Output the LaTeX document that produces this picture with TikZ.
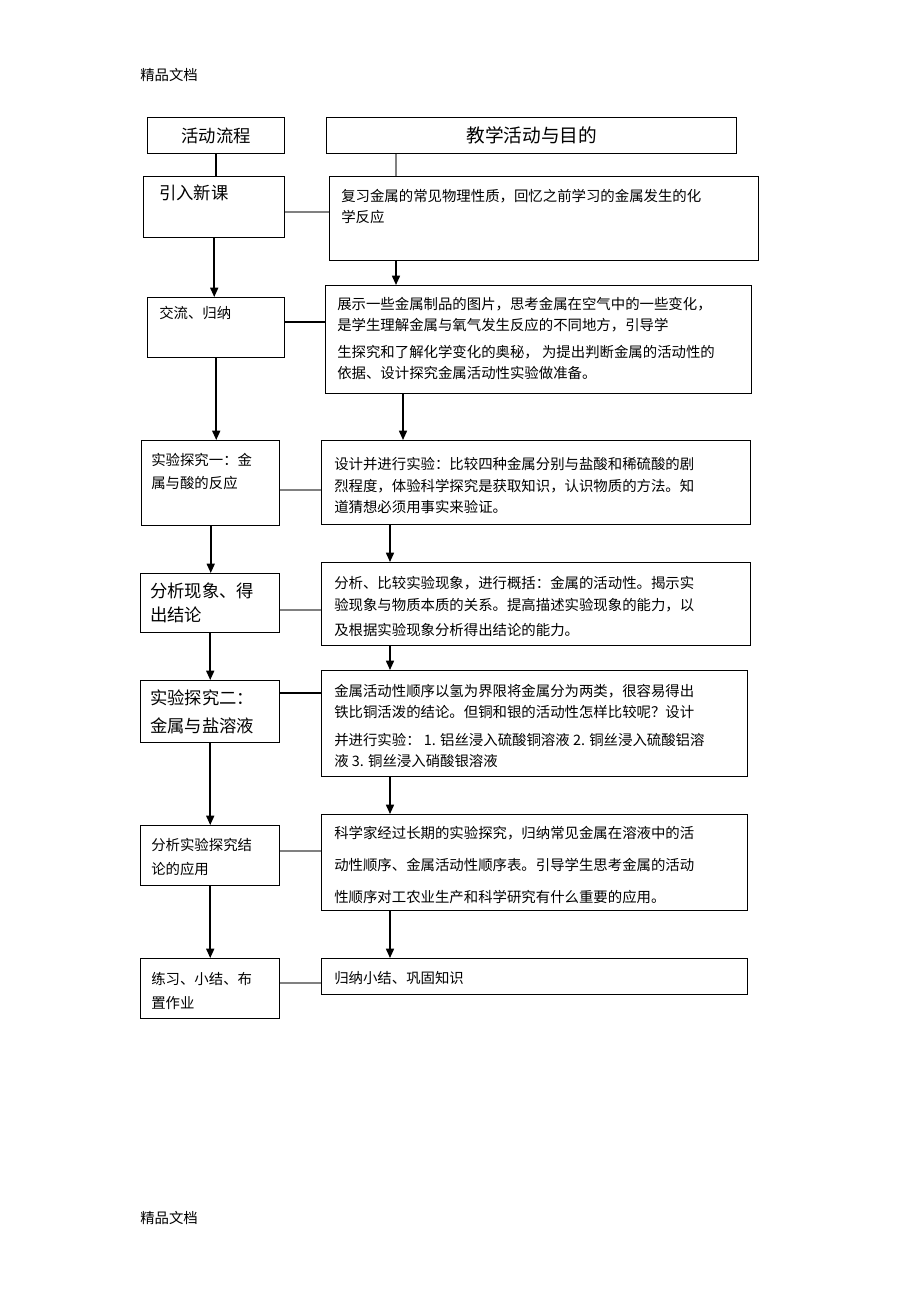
\documentclass[tikz,border=0pt]{standalone}
\usepackage{fontspec}
\setmainfont{Noto Sans CJK SC}
\usepackage{tikz}
\usetikzlibrary{arrows.meta}
\newlength\pxu
\setlength\pxu{0.75pt}
\newcommand\smallcn{\fontsize{10.8pt}{15.75pt}\selectfont}
\newcommand\largecn{\fontsize{13pt}{18pt}\selectfont}
\tikzstyle{box}=[draw=black,line width=1.1pt,rectangle,anchor=north west,inner sep=0pt]
\tikzstyle{txt}=[anchor=north west,align=left,inner sep=0pt,font=\smallcn]
\tikzstyle{link}=[draw=gray,line width=1.4pt]
\tikzstyle{bond}=[draw=black,line width=1.6pt]
\tikzstyle{arrow}=[->,draw=black,line width=1.2pt]
\begin{document}
\begin{tikzpicture}[x=0.75pt,y=-0.75pt,>={Triangle[length=7pt,width=6pt]},font=\smallcn]
	\useasboundingbox (0,0) rectangle (920,1303);
	\node [txt] (head) at (140,68) {精品文档};
	\node [txt] (foot) at (140,1211) {精品文档};

	% left column
	\node [box, minimum width=137\pxu, minimum height=36\pxu, font=\largecn] (flow) at (147,117) {活动流程};
	\node [box, minimum width=141\pxu, minimum height=61\pxu] (intro) at (143,176) {};
	\node [box, minimum width=137\pxu, minimum height=60\pxu] (summ) at (147,297) {};
	\node [box, minimum width=138\pxu, minimum height=85\pxu] (exp1) at (141,440) {};
	\node [box, minimum width=139\pxu, minimum height=59\pxu] (concl) at (140,573) {};
	\node [box, minimum width=139\pxu, minimum height=62\pxu] (exp2) at (140,680) {};
	\node [box, minimum width=139\pxu, minimum height=60\pxu] (appl) at (140,825) {};
	\node [box, minimum width=139\pxu, minimum height=60\pxu] (prac) at (140,958) {};

	\node [txt, font=\largecn] (introtxt) at (159,185) {引入新课};
	\node [txt] (summtxt) at (159,306) {交流、归纳};
	\node [txt] (exp1txt) at (151,453) {实验探究一：金\\[1.5pt]属与酸的反应};
	\node [txt, font=\largecn] (concltxt) at (150,583) {分析现象、得\\出结论};
	\node [txt, font=\largecn] (exp2txt) at (150,690) {实验探究二：\\[3pt]金属与盐溶液};
	\node [txt] (appltxt) at (151,838) {分析实验探究结\\[2pt]论的应用};
	\node [txt] (practxt) at (151,972) {练习、小结、布\\[2pt]置作业};

	% right column
	\node [box, minimum width=410\pxu, minimum height=36\pxu, font=\fontsize{14pt}{16pt}\selectfont] (goal) at (326,117) {教学活动与目的};
	\node [box, minimum width=429\pxu, minimum height=84\pxu] (review) at (329,176) {};
	\node [box, minimum width=426\pxu, minimum height=108\pxu] (show) at (325,285) {};
	\node [box, minimum width=429\pxu, minimum height=84\pxu] (design) at (321,440) {};
	\node [box, minimum width=429\pxu, minimum height=83\pxu] (analyse) at (321,562) {};
	\node [box, minimum width=426\pxu, minimum height=106\pxu] (order) at (321,670) {};
	\node [box, minimum width=426\pxu, minimum height=96\pxu] (table) at (321,814) {};
	\node [box, minimum width=426\pxu, minimum height=36\pxu] (wrap) at (321,958) {};

	\node [txt] (reviewtxt) at (341,189) {复习金属的常见物理性质，回忆之前学习的金属发生的化\\学反应};
	\node [txt] (showtxt) at (337,297) {展示一些金属制品的图片，思考金属在空气中的一些变化，\\是学生理解金属与氧气发生反应的不同地方，引导学\\[4.5pt]生探究和了解化学变化的奥秘， 为提出判断金属的活动性的\\依据、设计探究金属活动性实验做准备。};
	\node [txt] (designtxt) at (334,457) {设计并进行实验：比较四种金属分别与盐酸和稀硫酸的剧\\[1pt]烈程度，体验科学探究是获取知识，认识物质的方法。知\\道猜想必须用事实来验证。};
	\node [txt] (analysetxt) at (334,576) {分析、比较实验现象，进行概括：金属的活动性。揭示实\\[1pt]验现象与物质本质的关系。提高描述实验现象的能力，以\\[3pt]及根据实验现象分析得出结论的能力。};
	\node [txt] (ordertxt) at (334,684) {金属活动性顺序以氢为界限将金属分为两类，很容易得出\\铁比铜活泼的结论。但铜和银的活动性怎样比较呢？设计\\[5pt]并进行实验： 1. 铝丝浸入硫酸铜溶液 2. 铜丝浸入硫酸铝溶\\液 3. 铜丝浸入硝酸银溶液};
	\node [txt] (tabletxt) at (334,826) {科学家经过长期的实验探究，归纳常见金属在溶液中的活\\[8.25pt]动性顺序、金属活动性顺序表。引导学生思考金属的活动\\[8.25pt]性顺序对工农业生产和科学研究有什么重要的应用。};
	\node [txt] (wraptxt) at (334,971) {归纳小结、巩固知识};

	% vertical connectors
	\draw[bond] (flow.south) -- (flow.south |- intro.north);
	\draw[arrow] (intro.south) -- (intro.south |- summ.north);
	\draw[arrow] (summ.south) -- (summ.south |- exp1.north);
	\draw[arrow] (exp1.south) -- (exp1.south |- concl.north);
	\draw[arrow] (concl.south) -- (concl.south |- exp2.north);
	\draw[arrow] (exp2.south) -- (exp2.south |- appl.north);
	\draw[arrow] (appl.south) -- (appl.south |- prac.north);

	\draw[link] ([xshift=70\pxu]goal.south west) -- ([xshift=70\pxu]goal.south west |- review.north);
	\draw[arrow] ([xshift=67\pxu]review.south west) -- ([xshift=67\pxu]review.south west |- show.north);
	\draw[arrow] ([xshift=78\pxu]show.south west) -- ([xshift=78\pxu]show.south west |- design.north);
	\draw[arrow] ([xshift=69\pxu]design.south west) -- ([xshift=69\pxu]design.south west |- analyse.north);
	\draw[arrow] ([xshift=69\pxu]analyse.south west) -- ([xshift=69\pxu]analyse.south west |- order.north);
	\draw[arrow] ([xshift=69\pxu]order.south west) -- ([xshift=69\pxu]order.south west |- table.north);
	\draw[arrow] ([xshift=69\pxu]table.south west) -- ([xshift=69\pxu]table.south west |- wrap.north);

	% horizontal connectors
	\draw[link] ([yshift=-4.5\pxu]intro.east) -- ([yshift=-4.5\pxu]intro.east -| review.west);
	\draw[bond] ([yshift=6\pxu]summ.east) -- ([yshift=6\pxu]summ.east -| show.west);
	\draw[link] ([yshift=-6.5\pxu]exp1.east) -- ([yshift=-6.5\pxu]exp1.east -| design.west);
	\draw[link] ([yshift=-6.5\pxu]concl.east) -- ([yshift=-6.5\pxu]concl.east -| analyse.west);
	\draw[bond] ([yshift=19\pxu]exp2.east) -- ([yshift=19\pxu]exp2.east -| order.west);
	\draw[link] ([yshift=5\pxu]appl.east) -- ([yshift=5\pxu]appl.east -| table.west);
	\draw[link] ([yshift=6\pxu]prac.east) -- ([yshift=6\pxu]prac.east -| wrap.west);
\end{tikzpicture}
\end{document}
